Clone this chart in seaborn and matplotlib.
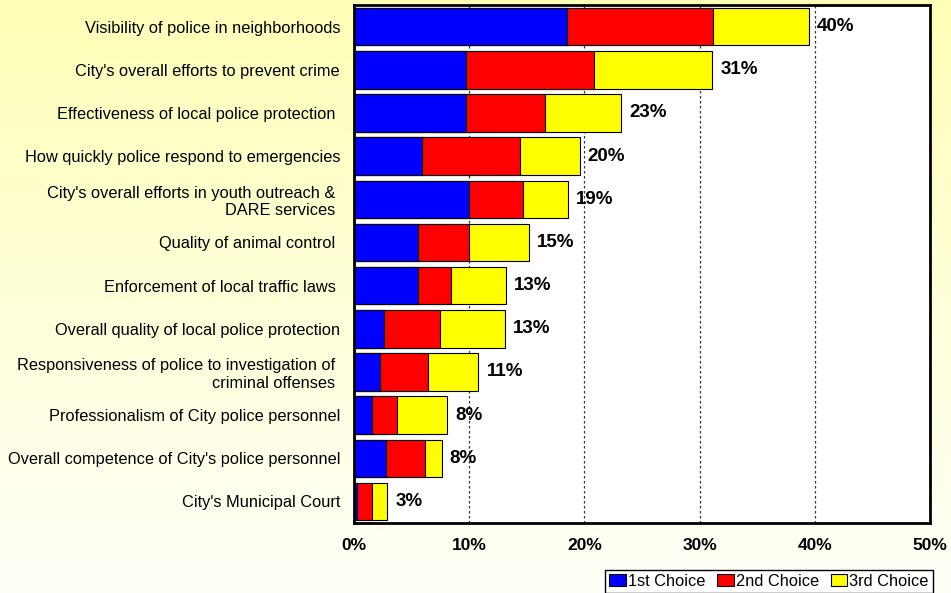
import matplotlib
matplotlib.use("Agg")
import matplotlib.pyplot as plt
import numpy as np
import pandas as pd
import seaborn as sns
from matplotlib.patches import Patch

# survey items, top to bottom
categories = [
    "Visibility of police in neighborhoods",
    "City's overall efforts to prevent crime",
    "Effectiveness of local police protection ",
    "How quickly police respond to emergencies",
    "City's overall efforts in youth outreach & \nDARE services ",
    "Quality of animal control ",
    "Enforcement of local traffic laws ",
    "Overall quality of local police protection",
    "Responsiveness of police to investigation of \ncriminal offenses ",
    "Professionalism of City police personnel",
    "Overall competence of City's police personnel",
    "City's Municipal Court",
]
first_choice = [18.5, 9.7, 9.7, 5.9, 10.0, 5.6, 5.6, 2.6, 2.3, 1.6, 2.8, 0.3]
second_choice = [12.7, 11.1, 6.9, 8.5, 4.7, 4.4, 2.8, 4.9, 4.1, 2.1, 3.4, 1.3]
third_choice = [8.3, 10.3, 6.6, 5.2, 3.9, 5.2, 4.8, 5.6, 4.4, 4.4, 1.4, 1.3]
total_labels = ["40%", "31%", "23%", "20%", "19%", "15%", "13%", "13%", "11%", "8%", "8%", "3%"]
x_ticks = [0, 10, 20, 30, 40, 50]

df = pd.DataFrame({
    "item": categories,
    "first": first_choice,
    "second": second_choice,
    "third": third_choice,
})
df["upto_second"] = df["first"] + df["second"]
df["total"] = df["upto_second"] + df["third"]

plt.rcParams["font.family"] = ["Liberation Sans", "DejaVu Sans"]

fig = plt.figure(figsize=(9.51, 5.93), dpi=100)

# pale yellow gradient background
bg = fig.add_axes([0, 0, 1, 1], zorder=-10)
grad = np.linspace(0, 1, 256).reshape(-1, 1)
top = np.array([1.0, 1.0, 0.72])
bot = np.array([1.0, 1.0, 0.975])
img = top[None, None, :] * (1 - grad[:, :, None]) + bot[None, None, :] * grad[:, :, None]
bg.imshow(img, aspect="auto", extent=[0, 1, 0, 1])
bg.axis("off")

ax = fig.add_axes([0.3722, 0.118, 0.6057, 0.8735])
ax.set_facecolor("white")

# stacked bars drawn as overlapping cumulative bars
bar_kw = dict(orient="h", width=0.87, edgecolor="black", linewidth=0.8,
              saturation=1, ax=ax)
sns.barplot(data=df, x="total", y="item", color="#FFFF00", **bar_kw)
sns.barplot(data=df, x="upto_second", y="item", color="#FF0000", **bar_kw)
sns.barplot(data=df, x="first", y="item", color="#0000FF", **bar_kw)

for i, (tot, lab) in enumerate(zip(df["total"], total_labels)):
    ax.annotate(lab, xy=(tot, i), xytext=(8, 0), textcoords="offset pixels",
                ha="left", va="center", fontsize=13.5, fontweight="bold")

ax.set_xlim(0, 50)
ax.set_xticks(x_ticks)
ax.set_xticklabels([f"{t}%" for t in x_ticks], fontsize=12.5, fontweight="bold")
ax.tick_params(axis="x", length=0, pad=11)
ax.tick_params(axis="y", length=0, pad=10, labelsize=11.8)
ax.set_xlabel("")
ax.set_ylabel("")
for t in x_ticks[1:-1]:
    ax.axvline(t, color="#333333", linestyle=(0, (2, 2)), linewidth=0.9, zorder=0)
for s in ax.spines.values():
    s.set_linewidth(2)
    s.set_color("black")

handles = [Patch(facecolor=c, edgecolor="black", linewidth=0.8) for c in ["#0000FF", "#FF0000", "#FFFF00"]]
leg = fig.legend(handles, ["1st Choice", "2nd Choice", "3rd Choice"], ncol=3,
                 loc="lower right", bbox_to_anchor=(0.981, 0.0), fontsize=11.8,
                 frameon=True, fancybox=False, edgecolor="black", framealpha=1,
                 handlelength=1.0, handleheight=0.8, handletextpad=0.15,
                 columnspacing=0.7, borderpad=0.25, borderaxespad=0.0)
leg.get_frame().set_linewidth(1.0)

fig.savefig("out.png", dpi=100)
